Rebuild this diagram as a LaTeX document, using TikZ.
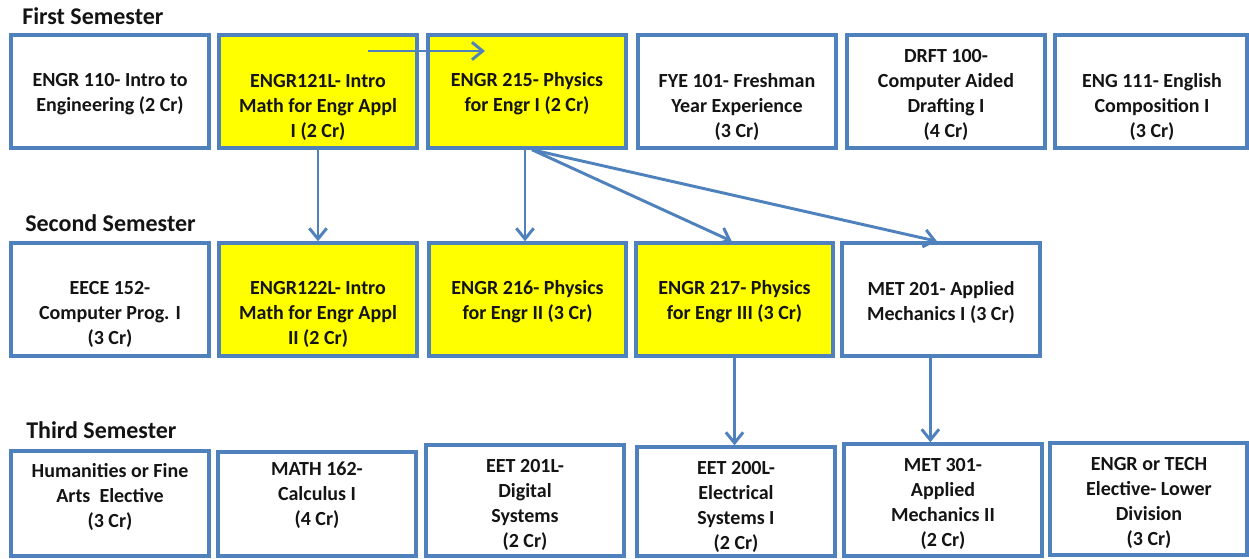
\documentclass[tikz,border=0pt]{standalone}
\usepackage{fontspec}
\setmainfont{Carlito}
\usetikzlibrary{arrows.meta,fit}
\definecolor{bd}{HTML}{4F81BD}
\definecolor{yl}{HTML}{FFFF00}
\definecolor{tx}{HTML}{141414}
\begin{document}
\begin{tikzpicture}[x=0.75pt,y=-0.75pt,
  box/.style={draw=bd,line width=2.6pt,inner sep=0pt,fill=white},
  hl/.style={box,fill=yl},
  txt/.style={align=center,font=\fontsize{15}{18.75}\selectfont\bfseries,text=tx,inner sep=0pt,yshift=-2pt},
  head/.style={anchor=west,font=\fontsize{18}{22}\selectfont\bfseries,text=tx,inner sep=0pt},
  arr/.style={draw=bd,line width=2.2pt,-{Straight Barb[length=8pt,width=13pt,line width=2.2pt]}}]
\useasboundingbox (0,0) rectangle (1249,558);
\fill[white] (0,0) rectangle (1249,558);

% headings
\node[head] (h1) at (22,16) {First Semester};
\node[head] (h2) at (25,223) {Second Semester};
\node[head] (h3) at (26,430) {Third Semester};

% row 1 boxes
\node[box,fit={(11,35)(209,148)}] (b11) {};
\node[hl,fit={(219,35)(417,148)}] (b12) {};
\node[hl,fit={(428,35)(626,148)}] (b13) {};
\node[box,fit={(638,35)(836,148)}] (b14) {};
\node[box,fit={(847,35)(1045,148)}] (b15) {};
\node[box,fit={(1055,35)(1247,148)}] (b16) {};

% row 2 boxes
\node[box,fit={(11,243)(209,356)}] (b21) {};
\node[hl,fit={(219,243)(417,356)}] (b22) {};
\node[hl,fit={(429,243)(626,356)}] (b23) {};
\node[hl,fit={(636,243)(833,356)}] (b24) {};
\node[box,fit={(842,243)(1040,356)}] (b25) {};

% row 3 boxes
\node[box,fit={(11,451)(209,556)}] (b31) {};
\node[box,fit={(218,452)(416,556)}] (b32) {};
\node[box,fit={(426,445)(624,556)}] (b33) {};
\node[box,fit={(637,447)(835,556)}] (b34) {};
\node[box,fit={(844,444)(1042,556)}] (b35) {};
\node[box,fit={(1050,443)(1247,555)}] (b36) {};

% row 1 texts
\node[txt] (t11) at (110,91.5) {ENGR 110- Intro to\\Engineering (2 Cr)};
\node[txt] (t12) at (318,104.5) {ENGR121L- Intro\\Math for Engr Appl\\I (2 Cr)};
\node[txt] (t13) at (527,91.5) {ENGR 215- Physics\\for Engr I (2 Cr)};
\node[txt] (t14) at (737,104.5) {FYE 101- Freshman\\Year Experience\\(3 Cr)};
\node[txt] (t15) at (946,92) {DRFT 100-\\Computer Aided\\Drafting I\\(4 Cr)};
\node[txt] (t16) at (1152,104.5) {ENG 111- English\\Composition I\\(3 Cr)};

% row 2 texts
\node[txt] (t21) at (110,312) {EECE 152-\\Computer Prog. I\\(3 Cr)};
\node[txt] (t22) at (318,312) {ENGR122L- Intro\\Math for Engr Appl\\II (2 Cr)};
\node[txt] (t23) at (527.5,299.5) {ENGR 216- Physics\\for Engr II (3 Cr)};
\node[txt] (t24) at (734.5,299.5) {ENGR 217- Physics\\for Engr III (3 Cr)};
\node[txt] (t25) at (941,299.5) {MET 201- Applied\\Mechanics I (3 Cr)};

% row 3 texts
\node[txt] (t31) at (110,494) {Humanities or Fine\\Arts~ Elective\\(3 Cr)};
\node[txt] (t32) at (317,493) {MATH 162-\\Calculus I\\(4 Cr)};
\node[txt] (t33) at (525,502.5) {EET 201L-\\Digital\\Systems\\(2 Cr)};
\node[txt] (t34) at (736,504.5) {EET 200L-\\Electrical\\Systems I\\(2 Cr)};
\node[txt] (t35) at (943,501) {MET 301-\\Applied\\Mechanics II\\(2 Cr)};
\node[txt] (t36) at (1149,500) {ENGR or TECH\\Elective- Lower\\Division\\(3 Cr)};

% connectors
\coordinate (c1s) at (368,51);
\coordinate (c1e) at (485,51);
\draw[arr] (c1s) -- (c1e);
\draw[arr] (b12.south) -- (b22.north);
\coordinate (c3) at ([xshift=-1.5pt]b13.south);
\draw[arr] (c3) -- (c3 |- b23.north);
\coordinate (c4) at ([xshift=3.75pt]b13.south);
\draw[arr] (c4) -- ([xshift=-2pt]b24.north);
\draw[arr] (c4) -- ([xshift=-3pt]b25.north);
\draw[arr] (b24.south) -- (b24.south |- b34.north);
\coordinate (c7) at ([xshift=-8pt]b25.south);
\draw[arr] (c7) -- (c7 |- b35.north);
\end{tikzpicture}
\end{document}
